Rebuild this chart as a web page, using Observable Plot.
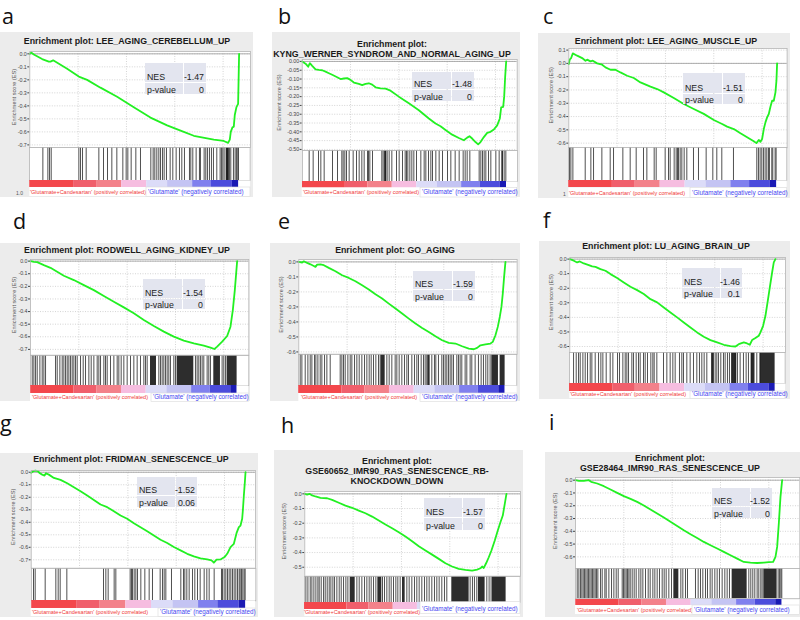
<!DOCTYPE html>
<html><head><meta charset="utf-8">
<script src="https://cdn.jsdelivr.net/npm/d3@7"></script>
<script src="https://cdn.jsdelivr.net/npm/@observablehq/plot@0.6"></script>
<style>
body{margin:0;background:#fff;}
#page{position:relative;width:800px;height:620px;overflow:hidden;font-family:"Liberation Sans",Arial,sans-serif;}
.abs{position:absolute;line-height:0;}
</style></head>
<body><div id="page"></div>
<script>
// ---------- DATA ----------
const letters = ["a","b","c","d","e","f","g","h","i"];
const titleLines = [
  ["Enrichment plot: LEE_AGING_CEREBELLUM_UP"],
  ["Enrichment plot:", "KYNG_WERNER_SYNDROM_AND_NORMAL_AGING_UP"],
  ["Enrichment plot: LEE_AGING_MUSCLE_UP"],
  ["Enrichment plot: RODWELL_AGING_KIDNEY_UP"],
  ["Enrichment plot: GO_AGING"],
  ["Enrichment plot: LU_AGING_BRAIN_UP"],
  ["Enrichment plot: FRIDMAN_SENESCENCE_UP"],
  ["Enrichment plot:", "GSE60652_IMR90_RAS_SENESCENCE_RB-", "KNOCKDOWN_DOWN"],
  ["Enrichment plot:", "GSE28464_IMR90_RAS_SENESCENCE_UP"]
];
const nesValues = ["-1.47","-1.48","-1.51","-1.54","-1.59","-1.46","-1.52","-1.57","-1.52"];
const pValues = ["0","0","0","0","0","0.1","0.06","0","0"];
const posLabel = "'Glutamate+Candesartan' (positively correlated)";
const negLabel = "'Glutamate' (negatively correlated)";
const yAxisLabel = "Enrichment score (ES)";

const yTicks7 = [0,-0.1,-0.2,-0.3,-0.4,-0.5,-0.6,-0.7];
const yTicks6 = [0,-0.1,-0.2,-0.3,-0.4,-0.5,-0.6];
const yTicks5 = [0,-0.1,-0.2,-0.3,-0.4,-0.5];
const yTicksC = [0.1,0,-0.1,-0.2,-0.3,-0.4,-0.5,-0.6];
const yTicksB = [0,-0.05,-0.1,-0.15,-0.2,-0.25,-0.3,-0.35,-0.4,-0.45,-0.5];
const rankGrid = [145,290,435,580];

// colour bar: fraction of ranked list where correlation level changes
const cbBreaks = [0,0.21,0.32,0.44,0.56,0.66,0.78,0.87,0.97,1];
const cbLevels = [4,3,2,1,-1,-2,-3,-4,-5];

// running enrichment score: rank position, ES
const aRank = [0,4,12,37,57,62,70,112,147,172,212,262,312,362,412,462,492,512,552,582,595,600,603,608,612,615,620,625,628];
const aES = [0,0.01,-0.005,-0.04,-0.06,-0.06,-0.05,-0.115,-0.175,-0.2,-0.26,-0.33,-0.41,-0.49,-0.55,-0.6,-0.63,-0.64,-0.66,-0.67,-0.685,-0.66,-0.6,-0.565,-0.56,-0.47,-0.41,-0.385,0];
const aHits = [40,55,60,65,148,153,159,170,208,222,234,247,262,280,290,295,305,319,333,364,371,376,382,388,393,399,404,411,422,430,440,450,457,465,480,484,490,500,510,513,524,529,534,540,546,552,562,572,576,580,584,590,594,597,600,604,612,617,621,625,627];
const aBlocks = [[591,598]];

const bRank = [0,10,18,23,30,40,50,60,70,80,90,105,115,125,135,145,155,170,180,190,200,210,220,235,250,265,290,320,350,380,400,415,430,450,470,485,495,502,510,520,528,535,545,555,565,575,585,593,597,603,606,609,612];
const bES = [0,-0.013,-0.03,-0.01,-0.025,-0.045,-0.048,-0.05,-0.058,-0.067,-0.076,-0.09,-0.1,-0.097,-0.095,-0.105,-0.12,-0.128,-0.135,-0.128,-0.124,-0.132,-0.147,-0.153,-0.155,-0.166,-0.2,-0.238,-0.277,-0.324,-0.353,-0.368,-0.39,-0.416,-0.435,-0.448,-0.433,-0.425,-0.438,-0.458,-0.471,-0.458,-0.43,-0.406,-0.4,-0.387,-0.363,-0.324,-0.261,-0.258,-0.2,-0.086,0];
const bHits = [20,32,48,55,65,90,105,118,122,127,132,140,152,162,170,178,185,195,198,202,210,238,242,246,250,254,260,268,282,290,300,308,312,316,322,328,334,342,355,365,370,378,385,390,400,410,420,435,445,458,470,482,488,494,502,530,535,540,545,550,558,565,580,590,600,605,610];
const bBlocks = [[248,252],[598,602]];

const cRank = [0,3,7,12,25,40,50,55,65,72,85,100,110,125,140,155,175,195,215,245,265,285,315,345,375,405,435,460,475,495,515,535,555,563,570,575,580,585,590,595,600,605,610,615,620,623,625];
const cES = [-0.005,0.03,0.04,0.075,0.058,0.04,0.02,0.028,0.015,0.02,0,-0.01,-0.03,-0.048,-0.048,-0.068,-0.093,-0.11,-0.143,-0.175,-0.193,-0.218,-0.26,-0.306,-0.343,-0.38,-0.426,-0.456,-0.476,-0.494,-0.526,-0.556,-0.586,-0.6,-0.576,-0.59,-0.569,-0.494,-0.444,-0.406,-0.381,-0.326,-0.281,-0.281,-0.218,-0.13,0];
const cHits = [3,7,13,50,67,75,100,125,135,163,185,203,225,235,257,263,290,300,305,317,323,327,330,335,340,347,355,375,390,413,433,445,460,495,565,570,575,580,585,590,595,600,603,610,613,620,623];
const cBlocks = [];

const dRank = [0,10,20,40,60,80,100,130,160,190,220,250,280,310,340,370,400,430,460,490,520,540,552,560,575,590,600,607,613,617,620];
const dES = [0,-0.005,-0.008,-0.032,-0.053,-0.084,-0.116,-0.15,-0.19,-0.23,-0.277,-0.322,-0.367,-0.414,-0.467,-0.515,-0.559,-0.599,-0.631,-0.652,-0.67,-0.686,-0.697,-0.678,-0.639,-0.594,-0.52,-0.388,-0.23,-0.098,0];
const dHits = [5,10,15,20,28,35,40,45,75,80,88,95,100,105,110,115,120,125,130,135,140,150,158,165,175,182,190,200,205,210,220,225,230,240,250,260,265,272,280,290,300,310,320,330,340,345,350,385,390,395,400,405,410,415,420,430,435,495,500,505,510,515,520,530,535,540,575,580,585];
const dBlocks = [[360,378],[440,490],[550,570],[590,620]];

const eRank = [0,10,15,25,35,45,50,55,65,75,90,110,130,150,170,190,210,230,250,270,290,310,330,350,370,390,410,430,450,470,490,510,525,535,545,560,575,582,590,597,603,608,612,616,620];
const eES = [0,-0.004,0.004,-0.007,-0.016,-0.027,-0.033,-0.018,-0.016,-0.022,-0.04,-0.062,-0.089,-0.107,-0.129,-0.156,-0.184,-0.216,-0.244,-0.278,-0.311,-0.344,-0.378,-0.411,-0.44,-0.467,-0.496,-0.522,-0.54,-0.544,-0.562,-0.578,-0.582,-0.573,-0.556,-0.549,-0.544,-0.533,-0.489,-0.433,-0.367,-0.3,-0.211,-0.1,0];
const eHits = [5,10,20,28,35,40,48,52,58,65,70,78,85,95,125,130,135,140,148,155,160,168,175,182,190,198,205,212,218,225,232,240,245,265,272,280,290,295,302,310,318,325,330,340,348,355,360,368,375,380,385,400,408,412,420,430,435,440,445,450,455,460,465,475,480,485,490,500,505,515,520,530,540,548,555,562,568,575];
const eBlocks = [[248,260],[388,395],[580,600],[605,620]];

const fRank = [0,12,22,30,42,57,67,77,92,107,122,142,162,182,202,222,242,262,282,302,322,342,362,382,402,422,442,462,482,497,507,522,532,540,547,557,567,572,580,587,594,600,607,612,617];
const fES = [0,-0.011,-0.023,-0.016,-0.03,-0.041,-0.05,-0.053,-0.069,-0.08,-0.103,-0.13,-0.16,-0.19,-0.213,-0.24,-0.275,-0.297,-0.332,-0.366,-0.4,-0.435,-0.469,-0.503,-0.533,-0.556,-0.572,-0.588,-0.597,-0.6,-0.584,-0.572,-0.579,-0.588,-0.556,-0.542,-0.526,-0.503,-0.458,-0.389,-0.286,-0.195,-0.092,-0.023,0];
const fHits = [12,20,27,32,40,47,54,62,67,77,87,94,100,110,122,130,144,150,160,167,172,177,187,192,200,207,212,222,227,234,244,250,254,262,282,292,302,310,317,330,337,342,352,362,372,382,390,397,404,412,427,432,437,442,447,454,462,467,474,480,487,497,504,512,522,530,537,547,554,562,572];
const fBlocks = [[427,433],[487,502],[545,555],[572,617]];

const gRank = [0,5,13,20,26,33,40,44,53,68,88,108,128,148,168,188,208,228,248,268,288,308,328,348,368,388,408,428,448,468,488,508,528,541,548,556,568,580,588,598,608,616,623,628,633,635,638,641,643];
const gES = [-0.005,0.008,0.013,0.008,-0.008,-0.019,-0.027,-0.008,-0.019,-0.045,-0.061,-0.088,-0.12,-0.152,-0.186,-0.221,-0.258,-0.279,-0.311,-0.346,-0.372,-0.407,-0.439,-0.471,-0.505,-0.54,-0.566,-0.598,-0.625,-0.652,-0.673,-0.689,-0.697,-0.705,-0.723,-0.699,-0.697,-0.678,-0.652,-0.598,-0.572,-0.487,-0.439,-0.426,-0.372,-0.306,-0.186,-0.08,0];
const gHits = [6,11,41,73,80,86,106,216,223,230,248,253,296,300,303,308,313,318,328,340,353,363,386,393,398,403,420,448,456,460,466,473,483,490,498,506,518,526,533,548,570,573,578,583,588,593,598,603,608,613,618,623,626,630,634,638,641];
const gBlocks = [];

const hRank = [0,7,14,22,32,47,67,82,102,122,142,162,182,202,222,242,262,282,302,322,342,362,382,402,422,442,462,482,502,517,527,532,537,544,552,560,570,579,587,594,600,605];
const hES = [0,-0.005,0,-0.011,-0.018,-0.027,-0.03,-0.041,-0.061,-0.08,-0.095,-0.114,-0.132,-0.155,-0.182,-0.209,-0.234,-0.261,-0.291,-0.323,-0.357,-0.386,-0.414,-0.443,-0.473,-0.495,-0.511,-0.518,-0.523,-0.516,-0.507,-0.495,-0.505,-0.473,-0.432,-0.386,-0.318,-0.25,-0.193,-0.148,-0.068,0];
const hHits = [4,10,17,22,28,34,40,44,50,57,62,68,74,79,85,90,97,104,110,117,124,130,157,164,172,180,187,194,200,207,214,234,240,247,254,260,267,274,280,287,307,314,322,330,337,344,352,360,367,374,382,390,397,404,412,420,427,497,504,510,517,547,554,560];
const hBlocks = [[137,152],[220,232],[294,302],[442,494],[522,542],[564,605]];

const iRank = [0,10,25,40,47,65,85,105,125,145,165,185,205,225,245,265,285,305,325,345,365,385,405,425,445,465,485,505,525,545,565,580,593,600,605,610,615,620];
const iES = [0,-0.005,-0.005,0,-0.013,-0.026,-0.047,-0.073,-0.099,-0.125,-0.146,-0.17,-0.198,-0.23,-0.261,-0.292,-0.326,-0.358,-0.392,-0.423,-0.452,-0.483,-0.509,-0.535,-0.561,-0.587,-0.614,-0.64,-0.645,-0.648,-0.645,-0.642,-0.64,-0.6,-0.522,-0.339,-0.131,0];
const iHits = [5,10,15,19,23,27,31,35,39,43,47,51,55,59,63,67,75,80,88,92,100,108,115,122,128,140,144,148,152,156,160,164,170,176,182,190,196,202,210,218,224,232,238,245,252,260,266,272,280,288,316,322,330,336,360,368,375,382,390,396,404,410,418,425,432,440,448,455,462,520,526,532,538,545,550,556,560,608,612,616,619];
const iBlocks = [[295,310],[470,515],[565,605]];

// ---------- LAYOUT (positions in page pixels) ----------
const layout = [
 {letter:[2,24],  frame:[0,32,253,197],   cx:127, ty:[43.5],            pl:29.3,  pt:51,    pb:147,   xMax:662, hb:180,   cb:187,   ly:193.5, rx:30,  bx:148, yd:[-0.72,0.018],  dec:1, tab:[145,63,38,22,19,11], axX:13.5},
 {letter:[278,24],frame:[272,32,520,197], cx:392, ty:[47,56.5],         pl:301.7, pt:59,    pb:150,   xMax:645, hb:181,   cb:187.5, ly:194,   rx:303, bx:422, yd:[-0.506,0.011], dec:2, tab:[412,72,39,22,17,11], axX:278.5},
 {letter:[543,24],frame:[538,33,790,198], cx:666, ty:[43.5],            pl:568.3, pt:47.7,  pb:147,   xMax:655, hb:180,   cb:187.5, ly:194.5, rx:569, bx:692, yd:[-0.635,0.112], dec:1, tab:[683,73,39,22,20,10], axX:551},
 {letter:[13,229],frame:[0,243,250,401],  cx:127, ty:[252.5],           pl:30,    pt:259.3, pb:355,   xMax:655, hb:385,   cb:393,   ly:398.5, rx:32,  bx:153, yd:[-0.746,0.013], dec:1, tab:[143,279,39,22,19,10], axX:13.5},
 {letter:[278,229],frame:[270,243,520,401],cx:395, ty:[252.5],           pl:298.3, pt:259.3, pb:354,   xMax:655, hb:385,   cb:393,   ly:398.5, rx:301, bx:422, yd:[-0.615,0.016], dec:1, tab:[413,271,39,22,18,11], axX:281},
 {letter:[543,228],frame:[539,241,790,399],cx:666, ty:[248.5],           pl:569.3, pt:256.7, pb:351.7, xMax:647, hb:382.7, cb:391,   ly:395.5, rx:570, bx:692, yd:[-0.641,0.011], dec:1, tab:[682,268,38,21,19,10], axX:551},
 {letter:[0,431], frame:[0,453,258,617],  cx:131, ty:[461.5],           pl:30.7,  pt:470,   pb:567.7, xMax:673, hb:600,   cb:608,   ly:613.5, rx:32,  bx:160, yd:[-0.767,0.014], dec:1, tab:[137,477,38,21,18,11], axX:13},
 {letter:[281,433],frame:[274,450,523,617],cx:397, ty:[463.5,473.5,483.5],pl:304.3, pt:491,   pb:575.7, xMax:647, hb:601.7, cb:609,   ly:613.5, rx:304, bx:422, yd:[-0.561,0.016], dec:1, tab:[424,498,38,22,19,12], axX:284, blueUp:true},
 {letter:[549,430],frame:[545,452,800,617],cx:670, ty:[461,471],         pl:575,   pt:477.3, pb:568.3, xMax:673, hb:598.5, cb:605,   ly:611.5, rx:577, bx:694, yd:[-0.691,0.021], dec:1, tab:[712,488,38,21,18,11], axX:555}
];

const series = [
 {rank:aRank, es:aES, hits:aHits, blocks:aBlocks, ticks:yTicks7},
 {rank:bRank, es:bES, hits:bHits, blocks:bBlocks, ticks:yTicksB},
 {rank:cRank, es:cES, hits:cHits, blocks:cBlocks, ticks:yTicksC},
 {rank:dRank, es:dES, hits:dHits, blocks:dBlocks, ticks:yTicks7},
 {rank:eRank, es:eES, hits:eHits, blocks:eBlocks, ticks:yTicks6},
 {rank:fRank, es:fES, hits:fHits, blocks:fBlocks, ticks:yTicks6},
 {rank:gRank, es:gES, hits:gHits, blocks:gBlocks, ticks:yTicks7},
 {rank:hRank, es:hES, hits:hHits, blocks:hBlocks, ticks:yTicks5},
 {rank:iRank, es:iES, hits:iHits, blocks:iBlocks, ticks:yTicks6}
];

const cbColors = ["#f3474c","#f05f6c","#f3818a","#f6bde0","#dcdcf8","#c4c4f3","#8080ee","#4c4cdc","#1a1ab4"];
const FONT = "'Liberation Sans', Arial, sans-serif";
const page = document.getElementById("page");

function place(node, x, y, z) {
  const d = document.createElement("div");
  d.className = "abs";
  d.style.left = x + "px"; d.style.top = y + "px";
  if (z) d.style.zIndex = z;
  d.appendChild(node);
  page.appendChild(d);
}

// gray frames
layout.forEach(L => {
  const f = document.createElement("div");
  f.className = "abs";
  Object.assign(f.style, {left:L.frame[0]+"px", top:L.frame[1]+"px", width:(L.frame[2]-L.frame[0])+"px", height:(L.frame[3]-L.frame[1])+"px", background:"#ececec"});
  page.appendChild(f);
});

series.forEach((p, k) => {
  const L = layout[k];
  const W = L.xMax / 3;
  const ML = L.pl - L.frame[0];
  const n = p.rank[p.rank.length - 1];
  const pts = p.rank.map((r, i) => ({rank: r, es: p.es[i]}));
  const fmt = d => d.toFixed(L.dec);

  const es = Plot.plot({
    width: ML + W, height: L.pb - L.pt,
    marginLeft: ML, marginRight: 0, marginTop: 0, marginBottom: 0,
    x: {domain: [0, L.xMax], axis: null},
    y: {domain: L.yd, ticks: p.ticks, tickFormat: fmt, tickSize: 2, tickPadding: 1, label: null},
    style: {background: "transparent", fontSize: "5.3px", fontFamily: FONT, color: "#444", overflow: "visible"},
    marks: [
      Plot.frame({fill: "white"}),
      Plot.ruleY(p.ticks, {stroke: "#c2c2c2", strokeDasharray: "1,1.5", strokeWidth: 0.7}),
      Plot.ruleX(rankGrid, {stroke: "#c2c2c2", strokeDasharray: "1,1.5", strokeWidth: 0.7}),
      Plot.ruleY([0], {stroke: "#999", strokeWidth: 0.8}),
      Plot.line(pts, {x: "rank", y: "es", stroke: "#22f022", strokeWidth: 1.8}),
      Plot.frame({stroke: "#b5b5b5", strokeWidth: 0.8})
    ]
  });
  place(es, L.frame[0], L.pt);

  const hits = Plot.plot({
    width: W, height: L.hb - L.pb, margin: 0,
    x: {domain: [0, L.xMax], axis: null},
    style: {background: "transparent", overflow: "visible"},
    marks: [
      Plot.frame({fill: "white"}),
      Plot.rect(p.blocks, {x1: d => d[0], x2: d => d[1], fill: "#161616", fillOpacity: 0.9}),
      Plot.ruleX(p.hits, {stroke: "#1a1a1a", strokeWidth: 0.9, strokeOpacity: 0.85}),
      Plot.frame({stroke: "#b5b5b5", strokeWidth: 0.8})
    ]
  });
  place(hits, L.pl, L.pb);

  const segs = cbLevels.map((lv, i) => ({x1: cbBreaks[i] * n, x2: cbBreaks[i + 1] * n, level: lv}));
  const cbar = Plot.plot({
    width: W, height: L.cb - L.hb, margin: 0,
    x: {domain: [0, L.xMax], axis: null},
    color: {type: "ordinal", domain: cbLevels, range: cbColors},
    style: {background: "transparent"},
    marks: [
      Plot.frame({fill: "white"}),
      Plot.rect(segs, {x1: "x1", x2: "x2", fill: "level"})
    ]
  });
  place(cbar, L.pl, L.hb);
});

// text overlay
let s = `<svg xmlns="http://www.w3.org/2000/svg" width="800" height="620" style="font-family:${FONT}">`;
layout.forEach((L, k) => {
  const W = L.xMax / 3;
  s += `<text x="${L.letter[0]}" y="${L.letter[1]}" font-size="21.5" font-family="'Open Sans', sans-serif" fill="#111">${letters[k]}</text>`;
  titleLines[k].forEach((t, j) => {
    s += `<text x="${L.cx}" y="${L.ty[j]}" text-anchor="middle" font-size="8.8" font-weight="bold" fill="#1a1a1a">${t}</text>`;
  });
  s += `<text transform="translate(${L.axX + 2},${(L.pt + L.pb) / 2 - 2}) rotate(-90)" text-anchor="middle" font-size="5.6" fill="#555">${yAxisLabel}</text>`;
  s += `<rect x="${L.pl}" y="${L.cb}" width="${W}" height="${L.ly + 2.5 - L.cb}" fill="white"/>`;
  s += `<text x="${L.rx}" y="${L.ly}" font-size="5.5" fill="#f03838">${posLabel}</text>`;
  const by = L.blueUp ? L.hb : L.cb;
  const bly = L.blueUp ? L.ly - 3 : L.ly;
  s += `<rect x="${L.bx - 2}" y="${by}" width="${L.pl + W + 2 - L.bx}" height="${bly + 3 - by}" fill="white" stroke="#dadada" stroke-width="0.6"/>`;
  s += `<text x="${L.bx}" y="${bly}" font-size="6.3" fill="#4646f0">${negLabel}</text>`;
  const [tx, tyy, w1, w2, h1, h2] = L.tab;
  s += `<rect x="${tx}" y="${tyy}" width="${w1}" height="${h1}" fill="#e3e5ef"/>`;
  s += `<rect x="${tx + w1 + 1}" y="${tyy}" width="${w2}" height="${h1}" fill="#e3e5ef"/>`;
  s += `<rect x="${tx}" y="${tyy + h1 + 1}" width="${w1}" height="${h2}" fill="#e3e5ef"/>`;
  s += `<rect x="${tx + w1 + 1}" y="${tyy + h1 + 1}" width="${w2}" height="${h2}" fill="#e3e5ef"/>`;
  s += `<text x="${tx + 2}" y="${tyy + h1 - 2}" font-size="8.8" fill="#222">NES</text>`;
  s += `<text x="${tx + w1 + 1 + w2 - 2}" y="${tyy + h1 - 2}" text-anchor="end" font-size="8.8" fill="#222">${nesValues[k]}</text>`;
  s += `<text x="${tx + 2}" y="${tyy + h1 + 1 + h2 - 1.5}" font-size="8.8" fill="#222">p-value</text>`;
  s += `<text x="${tx + w1 + 1 + w2 - 2}" y="${tyy + h1 + 1 + h2 - 1.5}" text-anchor="end" font-size="8.8" fill="#222">${pValues[k]}</text>`;
});
s += `<text x="16" y="195" font-size="5" fill="#555">1.0</text>`;
s += `<text x="563" y="195.5" font-size="5" fill="#555">1</text>`;
s += `</svg>`;
const ov = document.createElement("div");
ov.className = "abs";
Object.assign(ov.style, {left: "0px", top: "0px", zIndex: 10, pointerEvents: "none"});
ov.innerHTML = s;
page.appendChild(ov);
</script>
</body></html>
